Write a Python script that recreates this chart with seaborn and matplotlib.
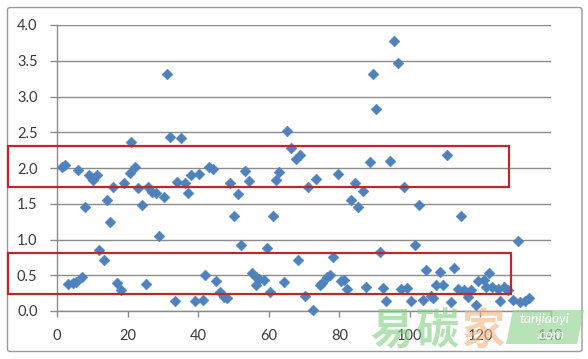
import numpy as np
import pandas as pd
import matplotlib.pyplot as plt
import seaborn as sns
from matplotlib.patches import Rectangle, FancyBboxPatch, Polygon

# Values
x_vals = [1.3, 2.3, 3.2, 4.5, 5.4, 6.0, 7.0, 8.0, 9.2, 9.9,
          10.1, 11.3, 12.0, 13.2, 14.1, 15.0, 16.0, 17.0, 18.2, 19.0,
          20.7, 21.0, 22.2, 23.0, 24.1, 25.2, 25.9, 26.9, 28.0, 29.0,
          30.2, 31.2, 32.1, 33.3, 34.0, 35.2, 36.4, 37.1, 38.0, 39.0,
          40.3, 41.4, 42.0, 43.2, 44.1, 45.0, 46.3, 47.4, 48.3, 49.1,
          50.2, 51.2, 52.1, 53.2, 54.3, 55.2, 56.3, 56.3, 57.3, 58.6,
          59.4, 60.3, 61.1, 62.2, 62.9, 64.3, 65.3, 66.2, 67.6, 68.2,
          69.0, 70.4, 71.2, 72.5, 73.3, 74.4, 75.2, 76.6, 77.5, 78.3,
          79.5, 80.4, 81.3, 82.3, 83.2, 84.5, 85.4, 86.6, 87.5, 88.7,
          89.5, 90.3, 91.5, 92.5, 93.3, 94.3, 95.4, 96.5, 97.4, 98.4,
          99.3, 100.4, 101.4, 102.7, 103.6, 104.5, 105.9, 106.7, 107.4, 108.5,
          109.3, 110.6, 111.6, 112.6, 113.7, 114.4, 115.4, 116.6, 117.4, 118.8,
          119.2, 121.1, 121.6, 122.5, 123.2, 124.9, 125.6, 126.8, 127.9, 129.3,
          130.7, 131.2, 132.6, 133.9]
y_vals = [2.02, 2.04, 0.38, 0.39, 0.40, 1.97, 0.48, 1.45, 1.90, 1.86,
          1.83, 1.90, 0.86, 0.71, 1.55, 1.24, 1.73, 0.39, 0.30, 1.79,
          1.93, 2.37, 2.01, 1.72, 1.48, 0.38, 1.73, 1.67, 1.65, 1.05,
          1.60, 3.31, 2.44, 0.14, 1.81, 2.42, 1.79, 1.65, 1.90, 0.14,
          1.92, 0.15, 0.50, 2.02, 1.99, 0.42, 0.27, 0.20, 0.18, 1.79,
          1.33, 1.63, 0.93, 1.96, 1.82, 0.53, 0.47, 0.37, 0.45, 0.43,
          0.88, 0.26, 1.33, 1.83, 1.95, 0.41, 2.52, 2.28, 2.13, 0.72,
          2.18, 0.21, 1.73, 0.02, 1.85, 0.36, 0.39, 0.48, 0.51, 0.75,
          1.91, 0.42, 0.44, 0.31, 1.55, 1.79, 1.46, 1.68, 0.33, 2.09,
          3.31, 2.83, 0.82, 0.32, 0.14, 2.10, 3.78, 3.47, 0.31, 1.73,
          0.32, 0.14, 0.92, 1.48, 0.15, 0.57, 0.21, 0.18, 0.36, 0.54,
          0.36, 2.18, 0.12, 0.60, 0.31, 1.33, 0.30, 0.19, 0.30, 0.09,
          0.42, 0.44, 0.34, 0.53, 0.33, 0.31, 0.14, 0.34, 0.30, 0.15,
          0.98, 0.13, 0.14, 0.18]
x_ticks = [0, 20, 40, 60, 80, 100, 120, 140]
y_ticks = [0.0, 0.5, 1.0, 1.5, 2.0, 2.5, 3.0, 3.5, 4.0]

df = pd.DataFrame({"x": x_vals, "y": y_vals})

sns.set_theme(style="white")
plt.rcParams["font.family"] = ["Lato", "DejaVu Sans"]

W, H = 588, 359
fig = plt.figure(figsize=(W / 100, H / 100), dpi=100)
fig.patch.set_facecolor("white")


def fx(px):
    return px / W


def fy(py):
    return 1 - py / H


grey = "#8c8c8c"
ax = fig.add_axes([fx(57), fy(311), fx(551) - fx(57), fy(25) - fy(311)])
ax.set_facecolor("none")
sns.scatterplot(data=df, x="x", y="y", marker="D", s=30, color="#4F81BD",
                edgecolor="#4F81BD", linewidth=0.4, ax=ax, zorder=3, clip_on=False)

ax.set_xlim(0, 140)
ax.set_ylim(0, 4)
ax.set_xticks(x_ticks)
ax.set_yticks(y_ticks)
ax.set_yticklabels([f"{v:.1f}" for v in y_ticks])
ax.set_xlabel("")
ax.set_ylabel("")
ax.yaxis.grid(True, color=grey, linewidth=1.0)
ax.set_axisbelow(True)
for side in ["top", "right"]:
    ax.spines[side].set_visible(False)
for side in ["left", "bottom"]:
    ax.spines[side].set_color(grey)
    ax.spines[side].set_linewidth(1.0)
ax.tick_params(axis="y", length=5, width=1.0, color=grey, pad=9,
               labelsize=10.5, labelcolor="#3a3a3a", left=True)
ax.tick_params(axis="x", length=4, width=1.0, color=grey, pad=9,
               labelsize=10.5, labelcolor="#3a3a3a", bottom=True)

# chart frame
frame = FancyBboxPatch((fx(7.5), fy(351.5)), fx(582) - fx(7.5), fy(7.5) - fy(351.5),
                       boxstyle="round,pad=0,rounding_size=0.006",
                       transform=fig.transFigure, fill=False,
                       edgecolor="#9a9a9a", linewidth=1.0, zorder=0)
fig.patches.append(frame)

# red highlight boxes
for (x0, y0, x1, y1) in [(8, 146, 509, 187), (8, 253, 511, 294)]:
    fig.patches.append(Rectangle((fx(x0), fy(y1)), fx(x1) - fx(x0), fy(y0) - fy(y1),
                                 transform=fig.transFigure, fill=False,
                                 edgecolor="#C0272D", linewidth=1.6, zorder=5))

# watermark (semi-transparent, sits over the x tick labels like the original)
cjk = ["Noto Sans CJK SC", "DejaVu Sans"]
for ch, cx, col in [("易", 392, "#7fcf7f"), ("碳", 437, "#7fcf7f"), ("家", 483, "#f5b27a")]:
    fig.text(fx(cx), fy(331), ch, fontsize=31, color=col, alpha=0.6,
             family=cjk, weight="bold", ha="center", va="center", zorder=6)
fig.patches.append(Polygon([(fx(513), fy(310)), (fx(584), fy(310)),
                            (fx(577), fy(344)), (fx(506), fy(344))],
                           closed=True, transform=fig.transFigure,
                           facecolor="#9ad79a", edgecolor="none", alpha=0.7, zorder=6))
fig.text(fx(545), fy(319), "tanjiaoyi", fontsize=10, color="white", style="italic",
         ha="center", va="center", zorder=7)
fig.text(fx(550), fy(335), ".com", fontsize=10, color="white", style="italic",
         ha="center", va="center", zorder=7)

plt.savefig("out.png", dpi=100)
